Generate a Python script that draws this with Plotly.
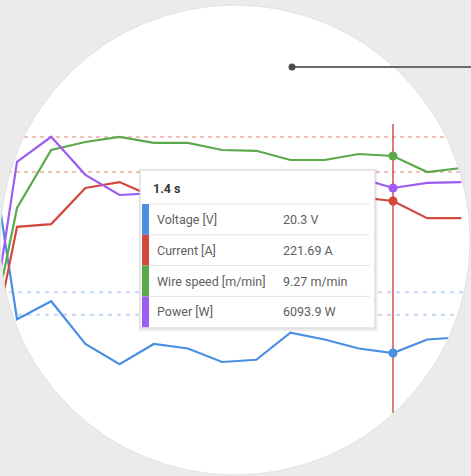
import numpy as np
import plotly.graph_objects as go

W, H = 471, 476

# ---------------- data ----------------
time_s = [0.2, 0.3, 0.4, 0.5, 0.6, 0.7, 0.8, 0.9, 1.0, 1.1, 1.2, 1.3, 1.4, 1.5, 1.6]
voltage_v = [31.7, 21.8, 22.6, 20.7, 19.8, 20.7, 20.5, 19.9, 20.0, 21.2, 20.9, 20.5, 20.3, 20.9, 21.0]
current_a = [166.0, 214.3, 215.1, 225.4, 227.1, 222.8, 223.4, 223.1, 223.7, 222.5, 223.1, 222.8, 221.69, 216.8, 216.8]
wire_speed_mmin = [3.8, 7.97, 9.42, 9.62, 9.75, 9.60, 9.60, 9.42, 9.40, 9.17, 9.17, 9.32, 9.27, 8.87, 8.97]
power_w = [880, 6780, 7440, 6440, 5910, 5960, 6040, 6150, 6200, 6250, 6280, 6360, 6093.9, 6230, 6250]

series_names = ["Voltage [V]", "Current [A]", "Wire speed [m/min]", "Power [W]"]
series_units = ["V", "A", "m/min", "W"]
series_formats = ["{:.1f}", "{:.2f}", "{:.2f}", "{:.1f}"]
cursor_time = 1.4
voltage_limits = [22, 23]
current_limits = [230, 240]

# ---------------- style ----------------
BG = "#ebebec"
line_colors = ["#4a8fe4", "#d4473d", "#5aaa4b", "#9d5cf2"]
FONT = "Roboto, 'Noto Sans', Arial, sans-serif"

ci = time_s.index(cursor_time)
series = [voltage_v, current_a, wire_speed_mmin, power_w]
# pixel position of the cursor value and pixels per unit for each hidden axis
anchor_px = [353, 201, 156, 188]
px_per_unit = [22.5, 3.5, 40.0, 0.038]


def axis_range(ref_value, ref_px, k):
    return [ref_value - (H - ref_px) / k, ref_value + ref_px / k]


def px(x):
    return x / W


def py(y):
    return 1 - y / H


fig = go.Figure()
axes = ["y", "y2", "y3", "y4"]
for vals, name, col, ax in zip(series, series_names, line_colors, axes):
    fig.add_trace(go.Scatter(x=time_s, y=vals, name=name, mode="lines",
                             line=dict(color=col, width=2.2), yaxis=ax,
                             hoverinfo="skip", showlegend=False))
for vals, col, ax in zip(series, line_colors, axes):
    fig.add_trace(go.Scatter(x=[time_s[ci]], y=[vals[ci]], mode="markers",
                             marker=dict(color=col, size=9), yaxis=ax,
                             hoverinfo="skip", showlegend=False))

shapes = []
# limit lines
for v in voltage_limits:
    shapes.append(dict(type="line", xref="paper", x0=0, x1=1, yref="y", y0=v, y1=v,
                       line=dict(color="#c4d8f3", width=2, dash="4px,5px"), layer="below"))
for c in current_limits:
    shapes.append(dict(type="line", xref="paper", x0=0, x1=1, yref="y2", y0=c, y1=c,
                       line=dict(color="#f2aaa4", width=1.5, dash="4px,4px"), layer="below"))
# cursor line
shapes.append(dict(type="line", xref="x", x0=cursor_time, x1=cursor_time, yref="paper",
                   y0=py(413), y1=py(124), line=dict(color="#d4504a", width=1.5), layer="below"))

# circular mask
cx, cy, r = 235, 240, 235
ang = np.linspace(0, 2 * np.pi, 241)[::-1]
pts = [(px(cx + r * np.cos(a)), py(cy + r * np.sin(a))) for a in ang]
path = "M0,0 L1,0 L1,1 L0,1 Z M" + " L".join(f"{x:.5f},{y:.5f}" for x, y in pts) + " Z"
shapes.append(dict(type="path", xref="paper", yref="paper", path=path, fillcolor=BG,
                   fillrule="evenodd", line=dict(width=0), layer="above"))
shapes.append(dict(type="circle", xref="paper", yref="paper", x0=px(cx - r), x1=px(cx + r),
                   y0=py(cy + r), y1=py(cy - r), line=dict(color="#e1e1e2", width=1),
                   layer="above"))

# tooltip
tx0, tx1, ty0, ty1 = 140, 375, 170, 328
shapes.append(dict(type="rect", xref="paper", yref="paper", x0=px(tx0 - 1), x1=px(tx1 + 2.5),
                   y0=py(ty1 + 3), y1=py(ty0 - 1), fillcolor="rgba(0,0,0,0.07)",
                   line=dict(width=0), layer="above"))
shapes.append(dict(type="rect", xref="paper", yref="paper", x0=px(tx0), x1=px(tx1),
                   y0=py(ty1), y1=py(ty0), fillcolor="white",
                   line=dict(color="#d3d3d3", width=1), layer="above"))
row_top = 204
row_h = 30.8
for i, col in enumerate(line_colors):
    shapes.append(dict(type="rect", xref="paper", yref="paper", x0=px(142), x1=px(149),
                       y0=py(row_top + (i + 1) * row_h), y1=py(row_top + i * row_h),
                       fillcolor=col, line=dict(width=0), layer="above"))
for i in range(4):
    yy = row_top + i * row_h
    shapes.append(dict(type="line", xref="paper", yref="paper", x0=px(149), x1=px(370),
                       y0=py(yy), y1=py(yy), line=dict(color="#e4e4e4", width=1),
                       layer="above"))

# pointer
shapes.append(dict(type="line", xref="paper", yref="paper", x0=px(292), x1=1,
                   y0=py(67), y1=py(67), line=dict(color="#6a6a6a", width=2), layer="above"))
shapes.append(dict(type="circle", xref="paper", yref="paper", x0=px(288.5), x1=px(295.5),
                   y0=py(70.5), y1=py(63.5), fillcolor="#4a4a4a", line=dict(width=0),
                   layer="above"))

annotations = [dict(text=f"<b>{cursor_time:g} s</b>", xref="paper", yref="paper",
                    x=px(151), y=py(189), xanchor="left", yanchor="middle", showarrow=False,
                    font=dict(family=FONT, size=12.5, color="#333333"))]
for i, (name, unit, fmt, vals) in enumerate(zip(series_names, series_units, series_formats, series)):
    yc = row_top + (i + 0.5) * row_h
    annotations.append(dict(text=name, xref="paper", yref="paper", x=px(155), y=py(yc),
                            xanchor="left", yanchor="middle", showarrow=False,
                            font=dict(family=FONT, size=12.5, color="#606060")))
    annotations.append(dict(text=fmt.format(vals[ci]) + " " + unit, xref="paper", yref="paper",
                            x=px(281), y=py(yc), xanchor="left", yanchor="middle",
                            showarrow=False, font=dict(family=FONT, size=12.5, color="#606060")))

x_lo = cursor_time - 393 / 341.8
x_hi = cursor_time + (W - 393) / 341.8
yaxes = {}
for j, ax in enumerate(axes):
    key = "yaxis" if j == 0 else f"yaxis{j + 1}"
    d = dict(range=axis_range(series[j][ci], anchor_px[j], px_per_unit[j]), visible=False,
             fixedrange=True, showgrid=False, zeroline=False)
    if j > 0:
        d["overlaying"] = "y"
    yaxes[key] = d

fig.update_layout(width=W, height=H, margin=dict(l=0, r=0, t=0, b=0, pad=0),
                  paper_bgcolor=BG, plot_bgcolor="white",
                  xaxis=dict(range=[x_lo, x_hi], visible=False, fixedrange=True,
                             showgrid=False, zeroline=False),
                  shapes=shapes, annotations=annotations, showlegend=False,
                  hovermode=False, **yaxes)

fig.write_html("out.html", config={"displayModeBar": False, "staticPlot": True},
               post_script="document.body.style.margin='0';document.body.style.overflow='hidden';")
